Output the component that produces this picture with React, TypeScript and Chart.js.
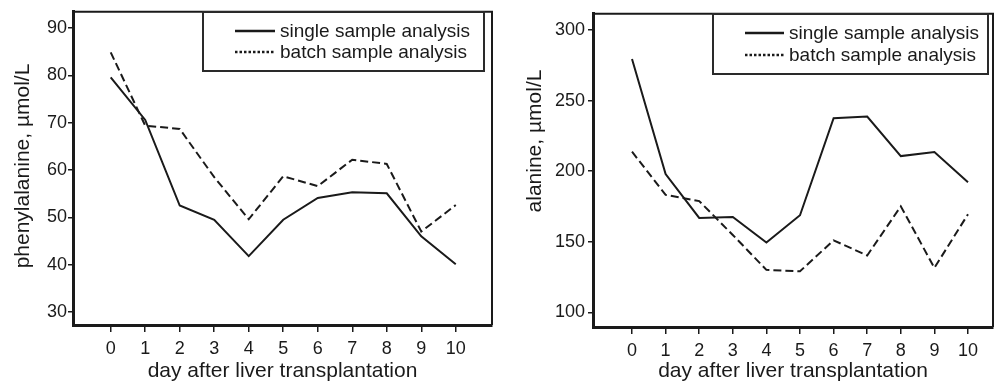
import React, { useEffect, useRef } from "react";
import { Chart, registerables } from "chart.js";

Chart.register(...registerables);

// ---- data ----
const days = [0, 1, 2, 3, 4, 5, 6, 7, 8, 9, 10];
const pheSingle = [79.6, 70.6, 52.5, 49.5, 41.8, 49.5, 54.1, 55.3, 55.1, 46.0, 40.1];
const pheBatch = [84.9, 69.4, 68.7, 58.5, 49.6, 58.7, 56.6, 62.2, 61.3, 47.0, 52.6];
const alaSingle = [279.5, 197.9, 166.9, 167.6, 149.4, 168.8, 237.5, 238.7, 210.7, 213.5, 192.1];
const alaBatch = [213.8, 183.2, 178.8, 154.8, 130.1, 129.1, 151.0, 140.3, 175.1, 131.5, 169.5];
const pheTicks = [30, 40, 50, 60, 70, 80, 90];
const alaTicks = [100, 150, 200, 250, 300];
const seriesLabels = ["single sample analysis", "batch sample analysis"];
const xTitle = "day after liver transplantation";
const pheTitle = "phenylalanine, \u00b5mol/L";
const alaTitle = "alanine, \u00b5mol/L";

const FONT = "'Liberation Sans', Arial, Helvetica, sans-serif";
const INK = "#1a1a1a";

Chart.defaults.font.family = FONT;
Chart.defaults.color = INK;

const framePlugin = {
  id: "frame",
  afterDraw(chart: any, _args: any, opts: any) {
    const { ctx, chartArea: a } = chart;
    ctx.save();
    ctx.strokeStyle = INK;
    ctx.lineWidth = opts.width || 2;
    ctx.beginPath();
    ctx.moveTo(a.left, a.top);
    ctx.lineTo(a.right, a.top);
    ctx.lineTo(a.right, a.bottom);
    ctx.stroke();
    ctx.restore();
  },
};

const boxLegendPlugin = {
  id: "boxLegend",
  afterDraw(chart: any, _args: any, o: any) {
    const { ctx } = chart;
    ctx.save();
    ctx.fillStyle = "#ffffff";
    ctx.fillRect(o.left, o.top, o.width, o.height);
    ctx.strokeStyle = "#2a2a2a";
    ctx.lineWidth = 2;
    ctx.strokeRect(o.left, o.top, o.width, o.height);
    chart.data.datasets.forEach((ds: any, i: number) => {
      const y = o.rowY[i];
      ctx.strokeStyle = INK;
      ctx.lineWidth = 2.5;
      ctx.setLineDash(ds.legendDash || []);
      ctx.beginPath();
      ctx.moveTo(o.lineX1, y);
      ctx.lineTo(o.lineX2, y);
      ctx.stroke();
      ctx.setLineDash([]);
      ctx.fillStyle = INK;
      ctx.font = `${o.fontSize}px ${FONT}`;
      ctx.textBaseline = "middle";
      ctx.textAlign = "left";
      ctx.fillText(ds.label, o.textX, y + 1);
    });
    ctx.restore();
  },
};

const yTitlePlugin = {
  id: "yTitle",
  afterDraw(chart: any, _args: any, o: any) {
    const { ctx } = chart;
    ctx.save();
    ctx.translate(o.x, o.y);
    ctx.rotate(-Math.PI / 2);
    ctx.fillStyle = INK;
    ctx.font = `${o.fontSize}px ${FONT}`;
    ctx.textAlign = "center";
    ctx.textBaseline = "middle";
    ctx.fillText(o.text, 0, 0);
    ctx.restore();
  },
};

function makeConfig(p: any) {
  return {
    type: "line",
    data: {
      datasets: [
        {
          label: seriesLabels[0],
          data: days.map((d, i) => ({ x: d, y: p.single[i] })),
          borderColor: INK,
          borderWidth: 2,
          pointRadius: 0,
          tension: 0,
          fill: false,
          legendDash: [],
        },
        {
          label: seriesLabels[1],
          data: days.map((d, i) => ({ x: d, y: p.batch[i] })),
          borderColor: INK,
          borderWidth: 2,
          borderDash: [8, 4],
          pointRadius: 0,
          tension: 0,
          fill: false,
          legendDash: [2.5, 2],
        },
      ],
    },
    options: {
      responsive: false,
      animation: false,
      events: [],
      layout: { padding: p.padding },
      scales: {
        x: {
          type: "linear",
          min: p.xMin,
          max: p.xMax,
          afterBuildTicks: (s: any) => {
            s.ticks = days.map((v) => ({ value: v }));
          },
          afterFit: (s: any) => {
            s.height = p.xH;
          },
          grid: { drawOnChartArea: false, drawTicks: true, tickLength: 7, color: INK, lineWidth: 1.5 },
          border: { display: true, color: INK, width: 3 },
          ticks: { color: INK, font: { size: 18 }, padding: 6, maxRotation: 0, autoSkip: false },
          title: {
            display: true,
            text: xTitle,
            color: INK,
            font: { size: 21, lineHeight: 1 },
            padding: { top: 0, bottom: 9 },
          },
        },
        y: {
          type: "linear",
          min: p.yMin,
          max: p.yMax,
          afterBuildTicks: (s: any) => {
            s.ticks = p.yTicks.map((v: number) => ({ value: v }));
          },
          afterFit: (s: any) => {
            s.width = p.yW;
          },
          grid: { drawOnChartArea: false, drawTicks: true, tickLength: 5, color: INK, lineWidth: 1.5 },
          border: { display: true, color: INK, width: 3 },
          ticks: { color: INK, font: { size: 18 }, padding: p.yPad },
        },
      },
      plugins: {
        legend: { display: false },
        tooltip: { enabled: false },
        frame: { width: 2 },
        boxLegend: p.legend,
        yTitle: p.yTitle,
      },
    },
    plugins: [framePlugin, boxLegendPlugin, yTitlePlugin],
  };
}

function ChartCanvas({ cfg, left, width }: any) {
  const ref = useRef<HTMLCanvasElement | null>(null);
  useEffect(() => {
    if (!ref.current) return;
    const chart = new Chart(ref.current, makeConfig(cfg) as any);
    return () => chart.destroy();
  }, []);
  return (
    <canvas
      ref={ref}
      width={width}
      height={391}
      style={{ position: "absolute", left, top: 0, width, height: 391 }}
    />
  );
}

const leftCfg = {
  single: pheSingle,
  batch: pheBatch,
  yTicks: pheTicks,
  xMin: -1.093,
  xMax: 11.05,
  yMin: 27.24,
  yMax: 93.47,
  padding: { left: 0, top: 6, right: 8, bottom: 0 },
  yW: 73,
  xH: 66,
  yPad: 1,
  legend: { left: 203, top: 12, width: 281, height: 59, lineX1: 235, lineX2: 275, rowY: [31, 52], textX: 280, fontSize: 19 },
  yTitle: { text: pheTitle, x: 23.5, y: 166, fontSize: 21 },
};

const rightCfg = {
  single: alaSingle,
  batch: alaBatch,
  yTicks: alaTicks,
  xMin: -1.161,
  xMax: 10.744,
  yMin: 89.6,
  yMax: 311.5,
  padding: { left: 0, top: 8, right: 5, bottom: 0 },
  yW: 93,
  xH: 64,
  yPad: 3,
  legend: { left: 213, top: 14, width: 275, height: 60, lineX1: 245, lineX2: 284, rowY: [33, 55], textX: 289, fontSize: 19 },
  yTitle: { text: alaTitle, x: 35, y: 141, fontSize: 21 },
};

export default function App() {
  return (
    <div style={{ position: "fixed", left: 0, top: 0, width: 998, height: 391, background: "#fff", overflow: "hidden" }}>
      <ChartCanvas cfg={leftCfg} left={0} width={500} />
      <ChartCanvas cfg={rightCfg} left={500} width={498} />
    </div>
  );
}
